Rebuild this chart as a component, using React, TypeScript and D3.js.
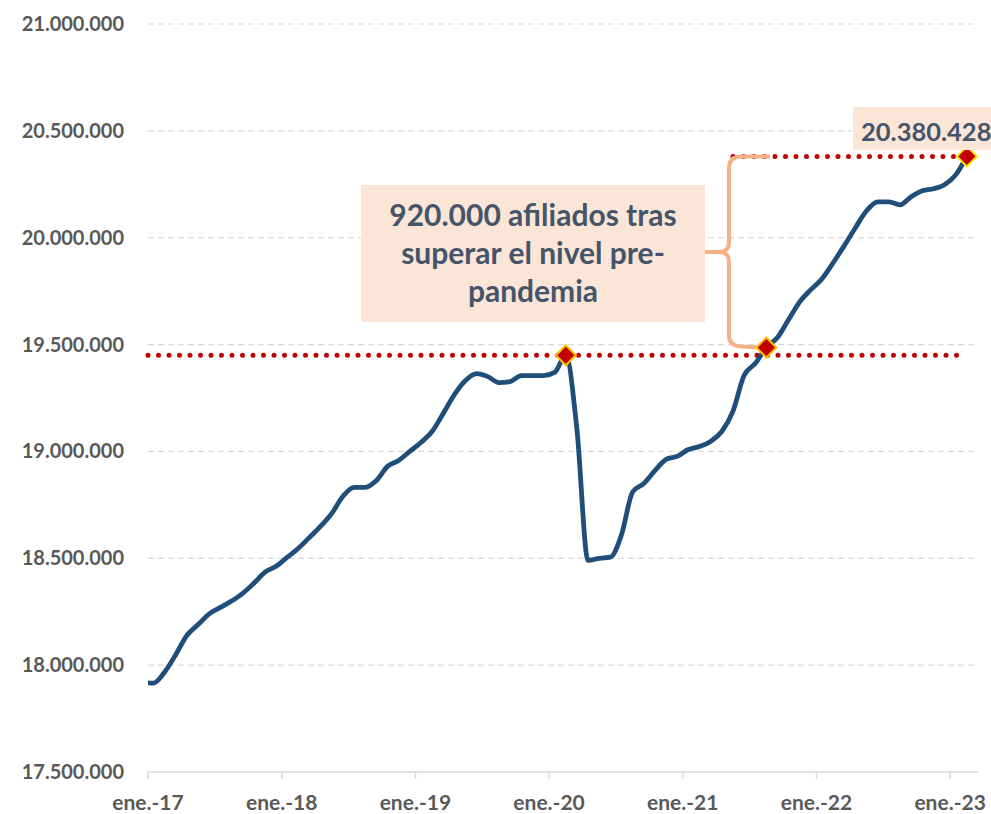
import React from "react";
import * as d3 from "d3";

// Monthly affiliates (seasonally adjusted), Dec 2016 .. Feb 2023, in millions
const values2016 = [17.92];
const values2017 = [17.916, 17.968, 18.05, 18.14, 18.19, 18.24, 18.27, 18.3, 18.336, 18.383, 18.435, 18.463];
const values2018 = [18.505, 18.547, 18.598, 18.65, 18.71, 18.79, 18.832, 18.832, 18.864, 18.93, 18.958, 19.0];
const values2019 = [19.042, 19.093, 19.178, 19.266, 19.332, 19.364, 19.35, 19.322, 19.327, 19.355, 19.355, 19.355];
const values2020 = [19.37, 19.45, 19.103, 18.49, 18.5, 18.505, 18.61, 18.81, 18.85, 18.91, 18.963, 18.977];
const values2021 = [19.009, 19.023, 19.047, 19.093, 19.187, 19.355, 19.411, 19.486, 19.533, 19.617, 19.7, 19.757];
const values2022 = [19.808, 19.883, 19.963, 20.047, 20.126, 20.168, 20.168, 20.154, 20.192, 20.22, 20.229, 20.248];
const values2023 = [20.294, 20.380428];

const yTicks = [17.5, 18, 18.5, 19, 19.5, 20, 20.5, 21];
const xTickLabels = ["ene.-17", "ene.-18", "ene.-19", "ene.-20", "ene.-21", "ene.-22", "ene.-23"];
const xTickMonths = [0, 12, 24, 36, 48, 60, 72];

// Highlighted points (month index from Jan 2017, value in millions)
const prePandemic = { month: 37, value: 19.45 };
const recovered = { month: 55, value: 19.486 };
const latest = { month: 73, value: 20.380428 };
const annotationLines = ["920.000 afiliados tras", "superar el nivel pre-", "pandemia"];
const latestLabel = "20.380.428";

const allValues = [
  ...values2016, ...values2017, ...values2018, ...values2019,
  ...values2020, ...values2021, ...values2022, ...values2023,
];
const series = allValues.map((v, i) => ({ month: i - 1, value: v }));

const W = 991, H = 814;
const left = 148, right = 978, top = 24, bottom = 772;

export default function App() {
  const x = d3.scaleLinear().domain([0, 74.5]).range([left, right]);
  const xc = (m: number) => x(m + 0.5);
  const y = d3.scaleLinear().domain([17.5, 21]).range([bottom, top]);
  const line = d3.line<{ month: number; value: number }>()
    .x(d => xc(d.month))
    .y(d => y(d.value))
    .curve(d3.curveMonotoneX);
  const fmt = (v: number) => d3.format(",.0f")(v * 1e6).replace(/,/g, ".");
  const font = "Lato, 'Open Sans', sans-serif";
  const gray = "#595959";
  const textBlue = "#44546a";
  const red = "#c00000";
  const brace = "#f4b183";
  const peach = "#fbe5d6";

  const diamond = (cx: number, cy: number, r: number) =>
    `M${cx},${cy - r}L${cx + r},${cy}L${cx},${cy + r}L${cx - r},${cy}Z`;

  const yPre = y(prePandemic.value);
  const yLat = y(latest.value);
  const yRec = y(recovered.value);
  const bx = 729;
  const yMid = (yLat + yRec) / 2;

  return (
    <svg width={W} height={H} style={{ position: "absolute", left: 0, top: 0, background: "#fff" }}>
      <defs>
        <clipPath id="plot">
          <rect x={left} y={0} width={right - left + 20} height={H} />
        </clipPath>
      </defs>
      {/* gridlines */}
      {yTicks.slice(1).map(t => (
        <line key={t} x1={left} x2={right} y1={y(t)} y2={y(t)} stroke="#d9d9d9" strokeWidth={1.2} strokeDasharray="6 4" />
      ))}
      {/* x axis */}
      <line x1={left} x2={right} y1={y(17.5)} y2={y(17.5)} stroke="#d9d9d9" strokeWidth={1.5} />
      {xTickMonths.map(m => (
        <line key={m} x1={x(m)} x2={x(m)} y1={y(17.5)} y2={y(17.5) + 7} stroke="#d9d9d9" strokeWidth={1.5} />
      ))}
      {xTickMonths.map((m, i) => (
        <text key={m} x={x(m)} y={810} textAnchor="middle" fontFamily={font} fontWeight="bold" fontSize={21} fill={gray}>
          {xTickLabels[i]}
        </text>
      ))}
      {/* y labels */}
      {yTicks.map(t => (
        <text key={t} x={124} y={y(t) + 7} textAnchor="end" fontFamily={font} fontWeight="bold" fontSize={20} fill={gray}>
          {fmt(t)}
        </text>
      ))}
      {/* dotted reference lines */}
      <line x1={left} x2={xc(latest.month)} y1={yPre} y2={yPre} stroke={red} strokeWidth={5} strokeLinecap="round" strokeDasharray="0 10.5" />
      <line x1={733} x2={xc(latest.month)} y1={yLat} y2={yLat} stroke={red} strokeWidth={5} strokeLinecap="round" strokeDasharray="0 10.5" />
      {/* brace */}
      <path
        d={`M770,${yLat} L741,${yLat} Q${bx},${yLat} ${bx},${yLat + 12} L${bx},${yMid - 10} Q${bx},${yMid} ${bx - 10},${yMid} L705,${yMid}
            M${bx - 10},${yMid} Q${bx},${yMid} ${bx},${yMid + 10} L${bx},${yRec - 12} Q${bx},${yRec - 2} ${bx + 12},${yRec - 1} L762,${yRec}`}
        fill="none" stroke={brace} strokeWidth={4} />
      {/* main line */}
      <g clipPath="url(#plot)">
        <path d={line(series) || ""} fill="none" stroke="#1f4e79" strokeWidth={4.8} strokeLinejoin="round" />
      </g>
      {/* diamonds */}
      {[prePandemic, recovered, latest].map((p, i) => (
        <path key={i} d={diamond(xc(p.month), y(p.value), 10)} fill={red} stroke={i === 2 ? "#ffe600" : "#ffc000"} strokeWidth={2} />
      ))}
      {/* annotation box */}
      <rect x={361} y={185} width={344} height={137} fill={peach} />
      {annotationLines.map((l, i) => (
        <text key={i} x={533} y={226 + i * 38} textAnchor="middle" fontFamily={font} fontWeight="bold" fontSize={30} fill={textBlue}>
          {l}
        </text>
      ))}
      {/* latest label */}
      <rect x={853} y={107} width={150} height={43} fill={peach} />
      <text x={861} y={141} fontFamily={font} fontWeight="bold" fontSize={25.5} fill={textBlue}>{latestLabel}</text>
    </svg>
  );
}
